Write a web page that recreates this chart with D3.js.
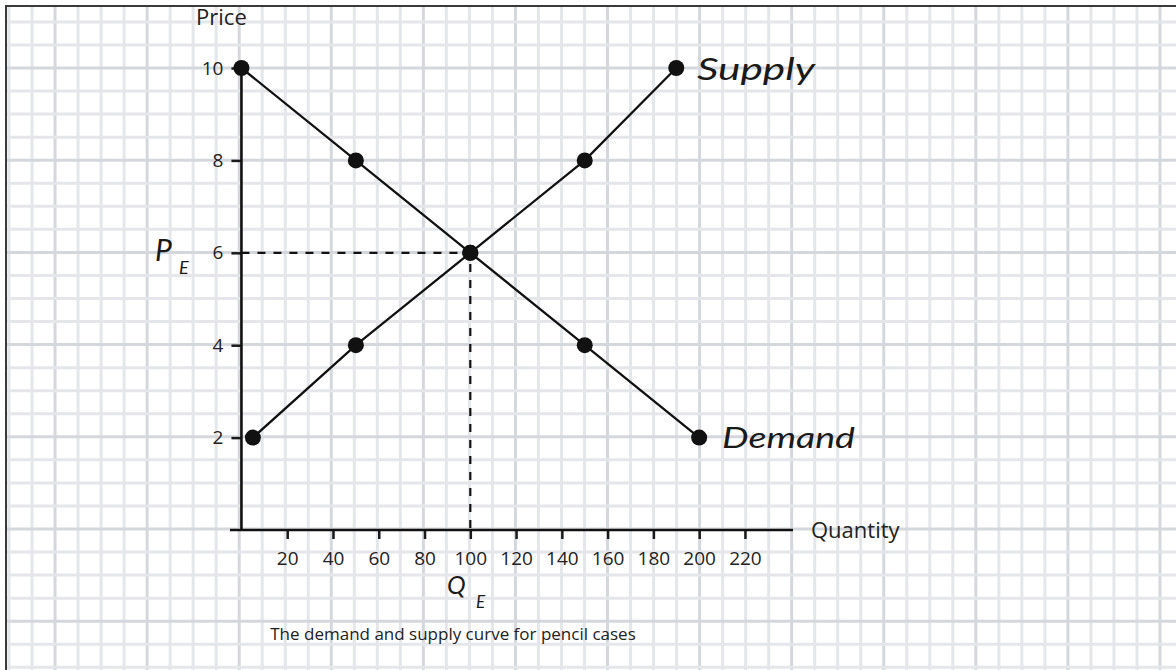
<!DOCTYPE html>
<html>
<head>
<meta charset="utf-8">
<script src="https://cdn.jsdelivr.net/npm/d3@7"></script>
<style>
  html, body { margin: 0; padding: 0; background: #fff; }
  svg { display: block; }
  .tick text { font-family: "Open Sans", sans-serif; font-size: 19px; fill: #222; }
  .hand { font-family: "Lato", sans-serif; font-style: italic; fill: #1a1a1a; }
</style>
</head>
<body>
<svg id="chart"></svg>
<script>
// demand / supply schedules
const demandQty = [0, 50, 100, 150, 200];
const demandPrice = [10, 8, 6, 4, 2];
const supplyQty = [5, 50, 100, 150, 190];
const supplyPrice = [2, 4, 6, 8, 10];
const eqQty = 100;
const eqPrice = 6;
const qtyTicks = [20, 40, 60, 80, 100, 120, 140, 160, 180, 200, 220];
const priceTicks = [2, 4, 6, 8, 10];

document.addEventListener("DOMContentLoaded", function() {
   const width = 1176;
   const height = 670;

   const svg = d3.select("#chart")
       .attr("width", width)
       .attr("height", height);

   // graph paper background
   const grid = svg.append("g");
   const cellX = 23.02, cellY = 23.05;
   d3.range(0, 52).forEach(i => {
       const gx = 9 + i * cellX;
       grid.append("line")
           .attr("x1", gx).attr("x2", gx)
           .attr("y1", 6).attr("y2", height)
           .attr("stroke", (i - 2) % 4 === 0 ? "#d4d7dc" : "#e4e6ea")
           .attr("stroke-width", 3);
   });
   d3.range(0, 29).forEach(i => {
       const gy = 21.9 + i * cellY;
       grid.append("line")
           .attr("x1", 6).attr("x2", width)
           .attr("y1", gy).attr("y2", gy)
           .attr("stroke", (i - 2) % 4 === 0 ? "#d4d7dc" : "#e4e6ea")
           .attr("stroke-width", 3);
   });

   // frame (only top and left edges visible)
   svg.append("path")
       .attr("d", `M6,${height + 2} V6 H${width + 2}`)
       .attr("fill", "none")
       .attr("stroke", "#3a3a3a")
       .attr("stroke-width", 2);

   const x = d3.scaleLinear().domain([-5, 241]).range([230, 793]);
   const y = d3.scaleLinear().domain([0, 10]).range([530, 68]);

   // axes
   const gx = svg.append("g")
       .attr("transform", `translate(0,${y(0)})`)
       .call(d3.axisBottom(x).tickValues(qtyTicks).tickSize(9).tickPadding(13));
   gx.select(".domain").remove();
   gx.selectAll(".tick line").attr("stroke", "#1a1a1a").attr("stroke-width", 2.5);

   const gy = svg.append("g")
       .attr("transform", `translate(${x(0)},0)`)
       .call(d3.axisLeft(y).tickValues(priceTicks).tickSize(10).tickPadding(8));
   gy.select(".domain").remove();
   gy.selectAll(".tick line").attr("stroke", "#1a1a1a").attr("stroke-width", 2.5);

   svg.append("line")
       .attr("x1", x(-5)).attr("x2", x(241))
       .attr("y1", y(0)).attr("y2", y(0))
       .attr("stroke", "#111").attr("stroke-width", 2.6);
   svg.append("line")
       .attr("x1", x(0)).attr("x2", x(0))
       .attr("y1", y(0)).attr("y2", y(10))
       .attr("stroke", "#111").attr("stroke-width", 2.6);

   svg.append("text")
       .attr("x", x(0) - 20).attr("y", 25)
       .attr("text-anchor", "middle")
       .style("font-family", "Open Sans, sans-serif")
       .style("font-size", "22px")
       .attr("fill", "#222")
       .text("Price");

   svg.append("text")
       .attr("x", 811).attr("y", 538)
       .style("font-family", "Open Sans, sans-serif")
       .style("font-size", "22px")
       .attr("fill", "#222")
       .text("Quantity");

   svg.append("text")
       .attr("x", 453).attr("y", 640)
       .attr("text-anchor", "middle")
       .style("font-family", "Open Sans, sans-serif")
       .style("font-size", "17px")
       .attr("fill", "#222")
       .text("The demand and supply curve for pencil cases");

   // equilibrium guides
   svg.append("path")
       .attr("d", `M${x(0)},${y(eqPrice)} H${x(eqQty)} V${y(0)}`)
       .attr("fill", "none")
       .attr("stroke", "#111")
       .attr("stroke-width", 2.2)
       .attr("stroke-dasharray", "8,8");

   const line = d3.line().x(d => x(d[0])).y(d => y(d[1]));
   const demand = d3.zip(demandQty, demandPrice);
   const supply = d3.zip(supplyQty, supplyPrice);

   [demand, supply].forEach(series => {
       svg.append("path")
           .datum(series)
           .attr("d", line)
           .attr("fill", "none")
           .attr("stroke", "#111")
           .attr("stroke-width", 2.3);

       svg.selectAll(null)
           .data(series)
           .enter()
           .append("circle")
           .attr("cx", d => x(d[0]))
           .attr("cy", d => y(d[1]))
           .attr("r", 8)
           .attr("fill", "#111");
   });

   // handwritten labels
   svg.append("text").attr("class", "hand")
       .attr("x", 697).attr("y", 80)
       .attr("textLength", 118)
       .attr("lengthAdjust", "spacingAndGlyphs")
       .style("font-size", "30px")
       .text("Supply");
   svg.append("text").attr("class", "hand")
       .attr("x", 722).attr("y", 448)
       .attr("textLength", 133)
       .attr("lengthAdjust", "spacingAndGlyphs")
       .style("font-size", "28px")
       .text("Demand");

   svg.append("text").attr("class", "hand")
       .attr("x", 155).attr("y", 261)
       .style("font-size", "30px")
       .text("P");
   svg.append("text").attr("class", "hand")
       .attr("x", 179).attr("y", 274)
       .style("font-size", "18px")
       .text("E");

   svg.append("text").attr("class", "hand")
       .attr("x", 447).attr("y", 594)
       .style("font-size", "25px")
       .text("Q");
   svg.append("text").attr("class", "hand")
       .attr("x", 476).attr("y", 608)
       .style("font-size", "17px")
       .text("E");
});
</script>
</body>
</html>
